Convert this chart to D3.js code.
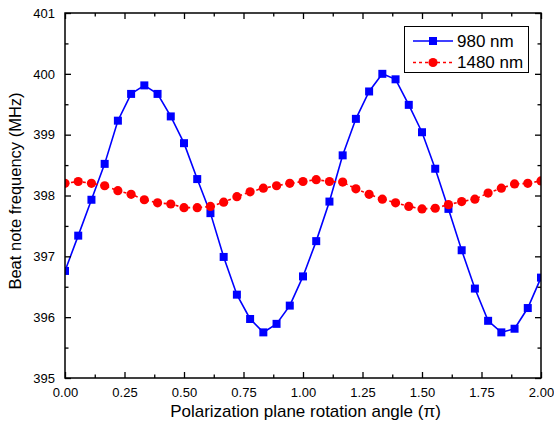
<!DOCTYPE html>
<html>
<head>
<meta charset="utf-8">
<script src="https://cdn.jsdelivr.net/npm/d3@7"></script>
<style>
  html, body { margin: 0; padding: 0; background: #fff; }
  svg { display: block; font-family: "Liberation Sans", Arial, Helvetica, sans-serif; }
</style>
</head>
<body>
<svg id="chart" width="554" height="423"></svg>
<script>
// Rotation angle in degrees (converted to units of π for plotting)
const anglesDeg = [0, 10, 20, 30, 40, 50, 60, 70, 80, 90, 100, 110, 120, 130, 140, 150, 160, 170, 180,
                   190, 200, 210, 220, 230, 240, 250, 260, 270, 280, 290, 300, 310, 320, 330, 340, 350, 360];

const series980 = [396.76, 397.34, 397.93, 398.52, 399.23, 399.67, 399.81, 399.67, 399.30, 398.86,
                   398.27, 397.71, 396.99, 396.37, 395.97, 395.75, 395.89, 396.19, 396.67,
                   397.25, 397.90, 398.66, 399.26, 399.71, 400.00, 399.91, 399.49, 399.04,
                   398.44, 397.78, 397.10, 396.47, 395.94, 395.75, 395.81, 396.15, 396.65];

const series1480 = [398.20, 398.23, 398.20, 398.16, 398.08, 398.02, 397.93, 397.88, 397.86, 397.80,
                    397.80, 397.82, 397.89, 397.98, 398.06, 398.12, 398.16, 398.20, 398.23,
                    398.26, 398.23, 398.22, 398.11, 398.02, 397.94, 397.88, 397.82, 397.78,
                    397.79, 397.85, 397.90, 397.94, 398.04, 398.12, 398.19, 398.20, 398.24];

const xMajorTicks = [0, 0.25, 0.5, 0.75, 1.0, 1.25, 1.5, 1.75, 2.0];
const xMinorTicks = [0.125, 0.375, 0.625, 0.875, 1.125, 1.375, 1.625, 1.875];
const yMajorTicks = [395, 396, 397, 398, 399, 400, 401];
const yMinorTicks = [395.5, 396.5, 397.5, 398.5, 399.5, 400.5];

const legendLabels = ["980 nm", "1480 nm"];
const xTitle = "Polarization plane rotation angle (\u03C0)";
const yTitle = "Beat note frequency (MHz)";

(function () {
const svg = d3.select("#chart");
const L = 65, R = 541, T = 13, B = 378;

const x = d3.scaleLinear().domain([0, 2]).range([L, R]);
const y = d3.scaleLinear().domain([395, 401]).range([B, T]);

const toPi = d => d / 180;
const d980 = anglesDeg.map((a, i) => ({ x: toPi(a), y: series980[i] }));
const d1480 = anglesDeg.map((a, i) => ({ x: toPi(a), y: series1480[i] }));

svg.append("defs").append("clipPath").attr("id", "plotclip")
  .append("rect").attr("x", L).attr("y", T).attr("width", R - L).attr("height", B - T);

const plot = svg.append("g").attr("clip-path", "url(#plotclip)");
const line = d3.line().x(d => x(d.x)).y(d => y(d.y));

// 980 nm
plot.append("path").datum(d980).attr("d", line)
  .attr("fill", "none").attr("stroke", "#0000ff").attr("stroke-width", 1.6);
const sq = 8;
plot.selectAll("rect.m980").data(d980).enter().append("rect")
  .attr("class", "m980")
  .attr("x", d => x(d.x) - sq / 2).attr("y", d => y(d.y) - sq / 2)
  .attr("width", sq).attr("height", sq).attr("fill", "#0000ff");

// 1480 nm
plot.append("path").datum(d1480).attr("d", line)
  .attr("fill", "none").attr("stroke", "#ff0000").attr("stroke-width", 1.6)
  .attr("stroke-dasharray", "3,3");
plot.selectAll("circle.m1480").data(d1480).enter().append("circle")
  .attr("class", "m1480")
  .attr("cx", d => x(d.x)).attr("cy", d => y(d.y)).attr("r", 4.6)
  .attr("fill", "#ff0000");

// Axes (ticks inward, all four sides)
const axStyle = g => {
  g.select(".domain").remove();
  g.selectAll("line").attr("stroke", "#000").attr("stroke-width", 1.3);
};
const fmtX = d3.format(".2f");

const gBottom = svg.append("g").attr("transform", `translate(0,${B})`);
gBottom.call(d3.axisBottom(x).tickValues(xMinorTicks).tickSize(-3.5).tickFormat("")).call(axStyle);
gBottom.append("g").call(d3.axisBottom(x).tickValues(xMajorTicks).tickSize(-6).tickPadding(10).tickFormat(fmtX)).call(axStyle)
  .selectAll("text").attr("fill", "#000").attr("font-size", "13px").attr("font-family", "Liberation Sans, Arial, sans-serif");

const gTop = svg.append("g").attr("transform", `translate(0,${T})`);
gTop.call(d3.axisTop(x).tickValues(xMinorTicks).tickSize(-3.5).tickFormat("")).call(axStyle);
gTop.append("g").call(d3.axisTop(x).tickValues(xMajorTicks).tickSize(-6).tickFormat("")).call(axStyle);

const gLeft = svg.append("g").attr("transform", `translate(${L},0)`);
gLeft.call(d3.axisLeft(y).tickValues(yMinorTicks).tickSize(-3.5).tickFormat("")).call(axStyle);
gLeft.append("g").call(d3.axisLeft(y).tickValues(yMajorTicks).tickSize(-6).tickPadding(10).tickFormat(d3.format("d"))).call(axStyle)
  .selectAll("text").attr("fill", "#000").attr("font-size", "13px").attr("font-family", "Liberation Sans, Arial, sans-serif");

const gRight = svg.append("g").attr("transform", `translate(${R},0)`);
gRight.call(d3.axisRight(y).tickValues(yMinorTicks).tickSize(-3.5).tickFormat("")).call(axStyle);
gRight.append("g").call(d3.axisRight(y).tickValues(yMajorTicks).tickSize(-6).tickFormat("")).call(axStyle);

// Frame
svg.append("rect").attr("x", L).attr("y", T).attr("width", R - L).attr("height", B - T)
  .attr("fill", "none").attr("stroke", "#000").attr("stroke-width", 1.5);

// Titles
svg.append("text").attr("x", 305.5).attr("y", 416.5).attr("text-anchor", "middle")
  .attr("font-size", "17px").attr("fill", "#000").text(xTitle);
svg.append("text").attr("transform", `translate(20.5,191) rotate(-90)`).attr("text-anchor", "middle")
  .attr("font-size", "16.5px").attr("fill", "#000").text(yTitle);

// Legend
const lg = svg.append("g");
lg.append("rect").attr("x", 404.5).attr("y", 26.5).attr("width", 124).attr("height", 46)
  .attr("fill", "#fff").attr("stroke", "#000").attr("stroke-width", 1);
const rows = [
  { label: legendLabels[0], color: "#0000ff", dash: null, marker: "square", yy: 41 },
  { label: legendLabels[1], color: "#ff0000", dash: "3,3", marker: "circle", yy: 62.5 }
];
rows.forEach(r => {
  lg.append("line").attr("x1", 413).attr("x2", 453).attr("y1", r.yy).attr("y2", r.yy)
    .attr("stroke", r.color).attr("stroke-width", 1.6).attr("stroke-dasharray", r.dash);
  if (r.marker === "square") {
    lg.append("rect").attr("x", 433 - sq / 2).attr("y", r.yy - sq / 2).attr("width", sq).attr("height", sq).attr("fill", r.color);
  } else {
    lg.append("circle").attr("cx", 433).attr("cy", r.yy).attr("r", 4.6).attr("fill", r.color);
  }
  lg.append("text").attr("x", 457).attr("y", r.yy + 5.5).attr("font-size", "17px").attr("fill", "#000").text(r.label);
});
})();
</script>
</body>
</html>
